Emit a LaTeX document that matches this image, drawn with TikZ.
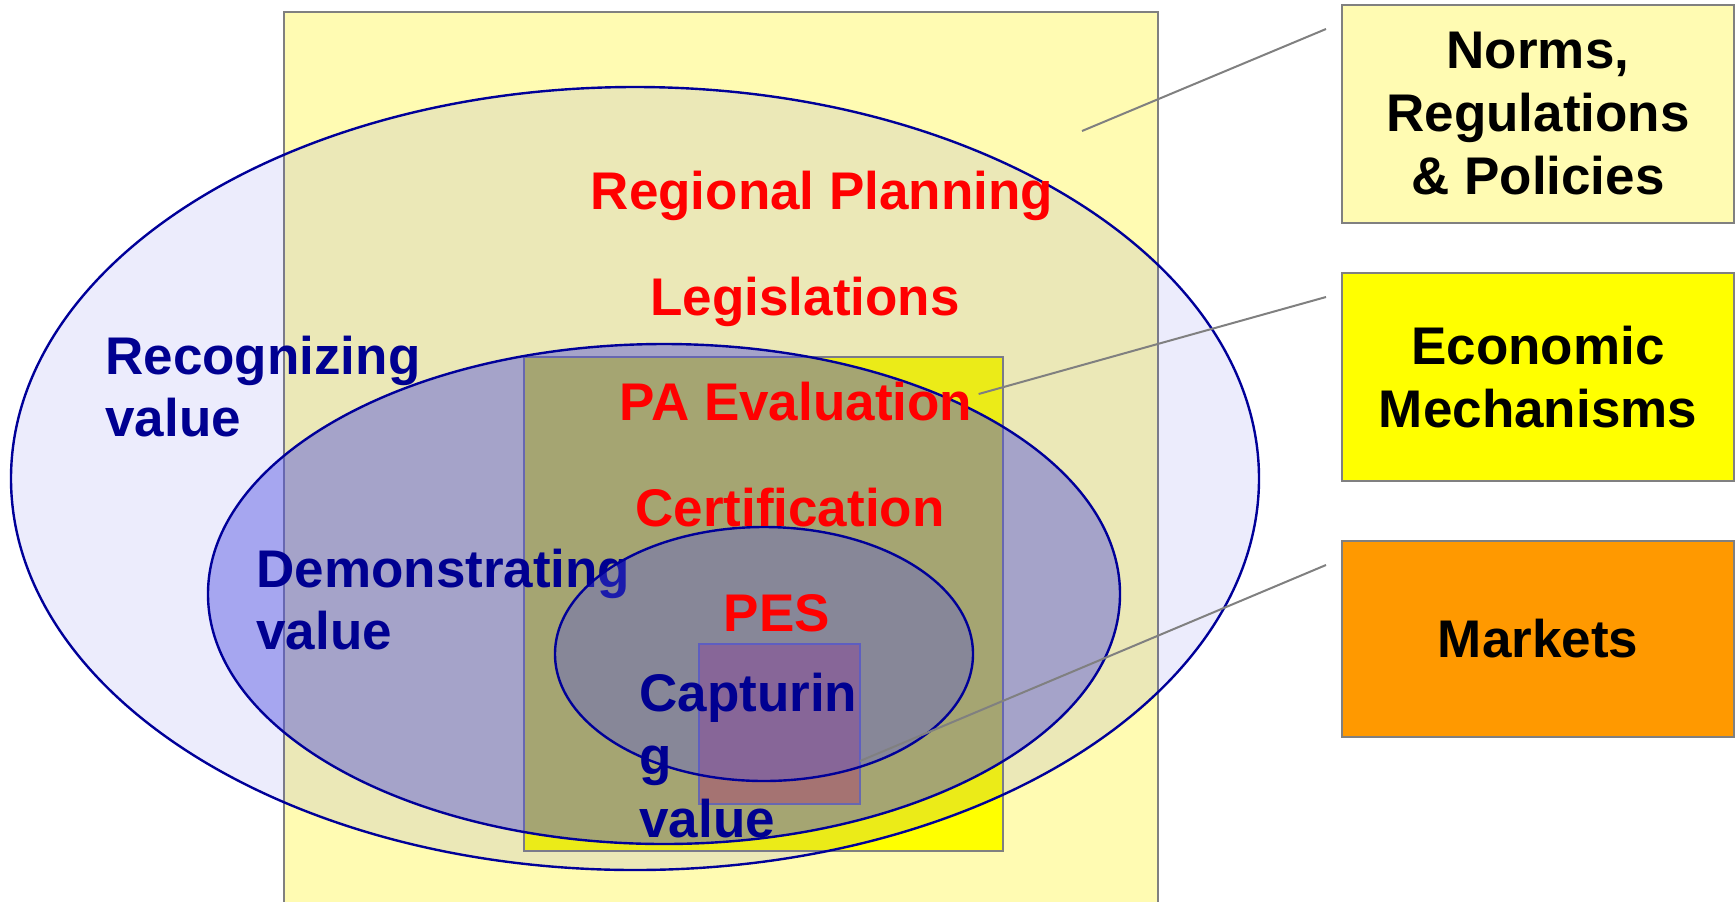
\documentclass[tikz,border=0pt]{standalone}
\usepackage{fontspec}
\setmainfont{Liberation Sans}
\usetikzlibrary{shapes.geometric}
\definecolor{paleyellow}{RGB}{255,251,178}
\definecolor{brightyellow}{RGB}{255,255,0}
\definecolor{markorange}{RGB}{255,153,0}
\definecolor{framegray}{RGB}{128,128,128}
\definecolor{ringblue}{RGB}{0,0,153}
\definecolor{tintblue}{RGB}{80,80,225}
\definecolor{labelblue}{RGB}{0,0,145}
\definecolor{labelred}{RGB}{255,0,0}
\begin{document}
\begin{tikzpicture}[x=0.5pt,y=-0.5pt,
  panel/.style={rectangle, draw=framegray, line width=1pt, inner sep=0pt, outer sep=0pt},
  ring/.style={ellipse, draw=ringblue, line width=1.2pt, fill=tintblue, inner sep=0pt, outer sep=0pt},
  lbl/.style={font=\fontsize{26.5}{31.5}\selectfont\bfseries, inner sep=0pt},
  redlbl/.style={lbl, text=labelred, anchor=base},
  bluelbl/.style={lbl, text=labelblue, anchor=base west},
  keybox/.style={panel, lbl, text=black, align=center, minimum width=196pt},
  lead/.style={draw=framegray, line width=1pt}]
\useasboundingbox (0,0) rectangle (1735,901);
\clip (0,0) rectangle (1735,901);

% nested areas: norms, economic mechanisms, markets
\node[panel, fill=paleyellow, minimum width=437pt, minimum height=494pt] (normsarea) at (721,506) {};
\node[panel, fill=brightyellow, minimum width=239.5pt, minimum height=247pt] (econarea) at (763.5,604) {};
\node[panel, fill=markorange, minimum width=80.5pt, minimum height=80pt] (marketarea) at (779.5,724) {};

% value rings
\node[ring, fill opacity=0.11, minimum width=624pt, minimum height=391.5pt] (recog) at (635,478.5) {};
\node[bluelbl] (recogA) at (105,374) {Recognizing};
\node[bluelbl] (recogB) at (105,436) {value};

\node[ring, fill opacity=0.45, minimum width=456pt, minimum height=250pt] (demo) at (664,594) {};
\node[bluelbl] (demoA) at (256,587) {Demonstrating};
\node[bluelbl] (demoB) at (256,649) {value};

\node[ring, fill opacity=0.35, minimum width=209pt, minimum height=127pt] (capt) at (764,654) {};
\node[bluelbl] (captA) at (639,711) {Capturin};
\node[bluelbl] (captB) at (639,774) {g};
\node[bluelbl] (captC) at (639,837) {value};

% instruments
\node[redlbl] (regional) at (822,209) {Regional Planning};
\node[redlbl] (legis) at (805,315) {Legislations};
\node[redlbl] (paeval) at (796,420) {PA Evaluation};
\node[redlbl] (certif) at (790,526) {Certification};
\node[redlbl] (pes) at (777,631) {PES};

% legend boxes
\node[keybox, fill=paleyellow, minimum height=109pt] (normsbox) at (1538,114) {Norms,\\Regulations\\\& Policies};
\node[keybox, fill=brightyellow, minimum height=104pt] (econbox) at (1538,377) {Economic\\Mechanisms};
\node[keybox, fill=markorange, minimum height=98pt] (marketbox) at (1538,639) {Markets};

% leader lines
\coordinate (normsfrom) at ([shift={(-16,24)}]normsbox.north west);
\coordinate (normsto) at (1082,131);
\coordinate (econfrom) at ([shift={(-16,24)}]econbox.north west);
\coordinate (econto) at ([shift={(6,-26)}]paeval.base east);
\coordinate (marketfrom) at ([shift={(-16,24)}]marketbox.north west);
\coordinate (marketto) at ([shift={(0,37)}]marketarea.east);
\draw[lead] (normsfrom) -- (normsto);
\draw[lead] (econfrom) -- (econto);
\draw[lead] (marketfrom) -- (marketto);
\end{tikzpicture}
\end{document}
